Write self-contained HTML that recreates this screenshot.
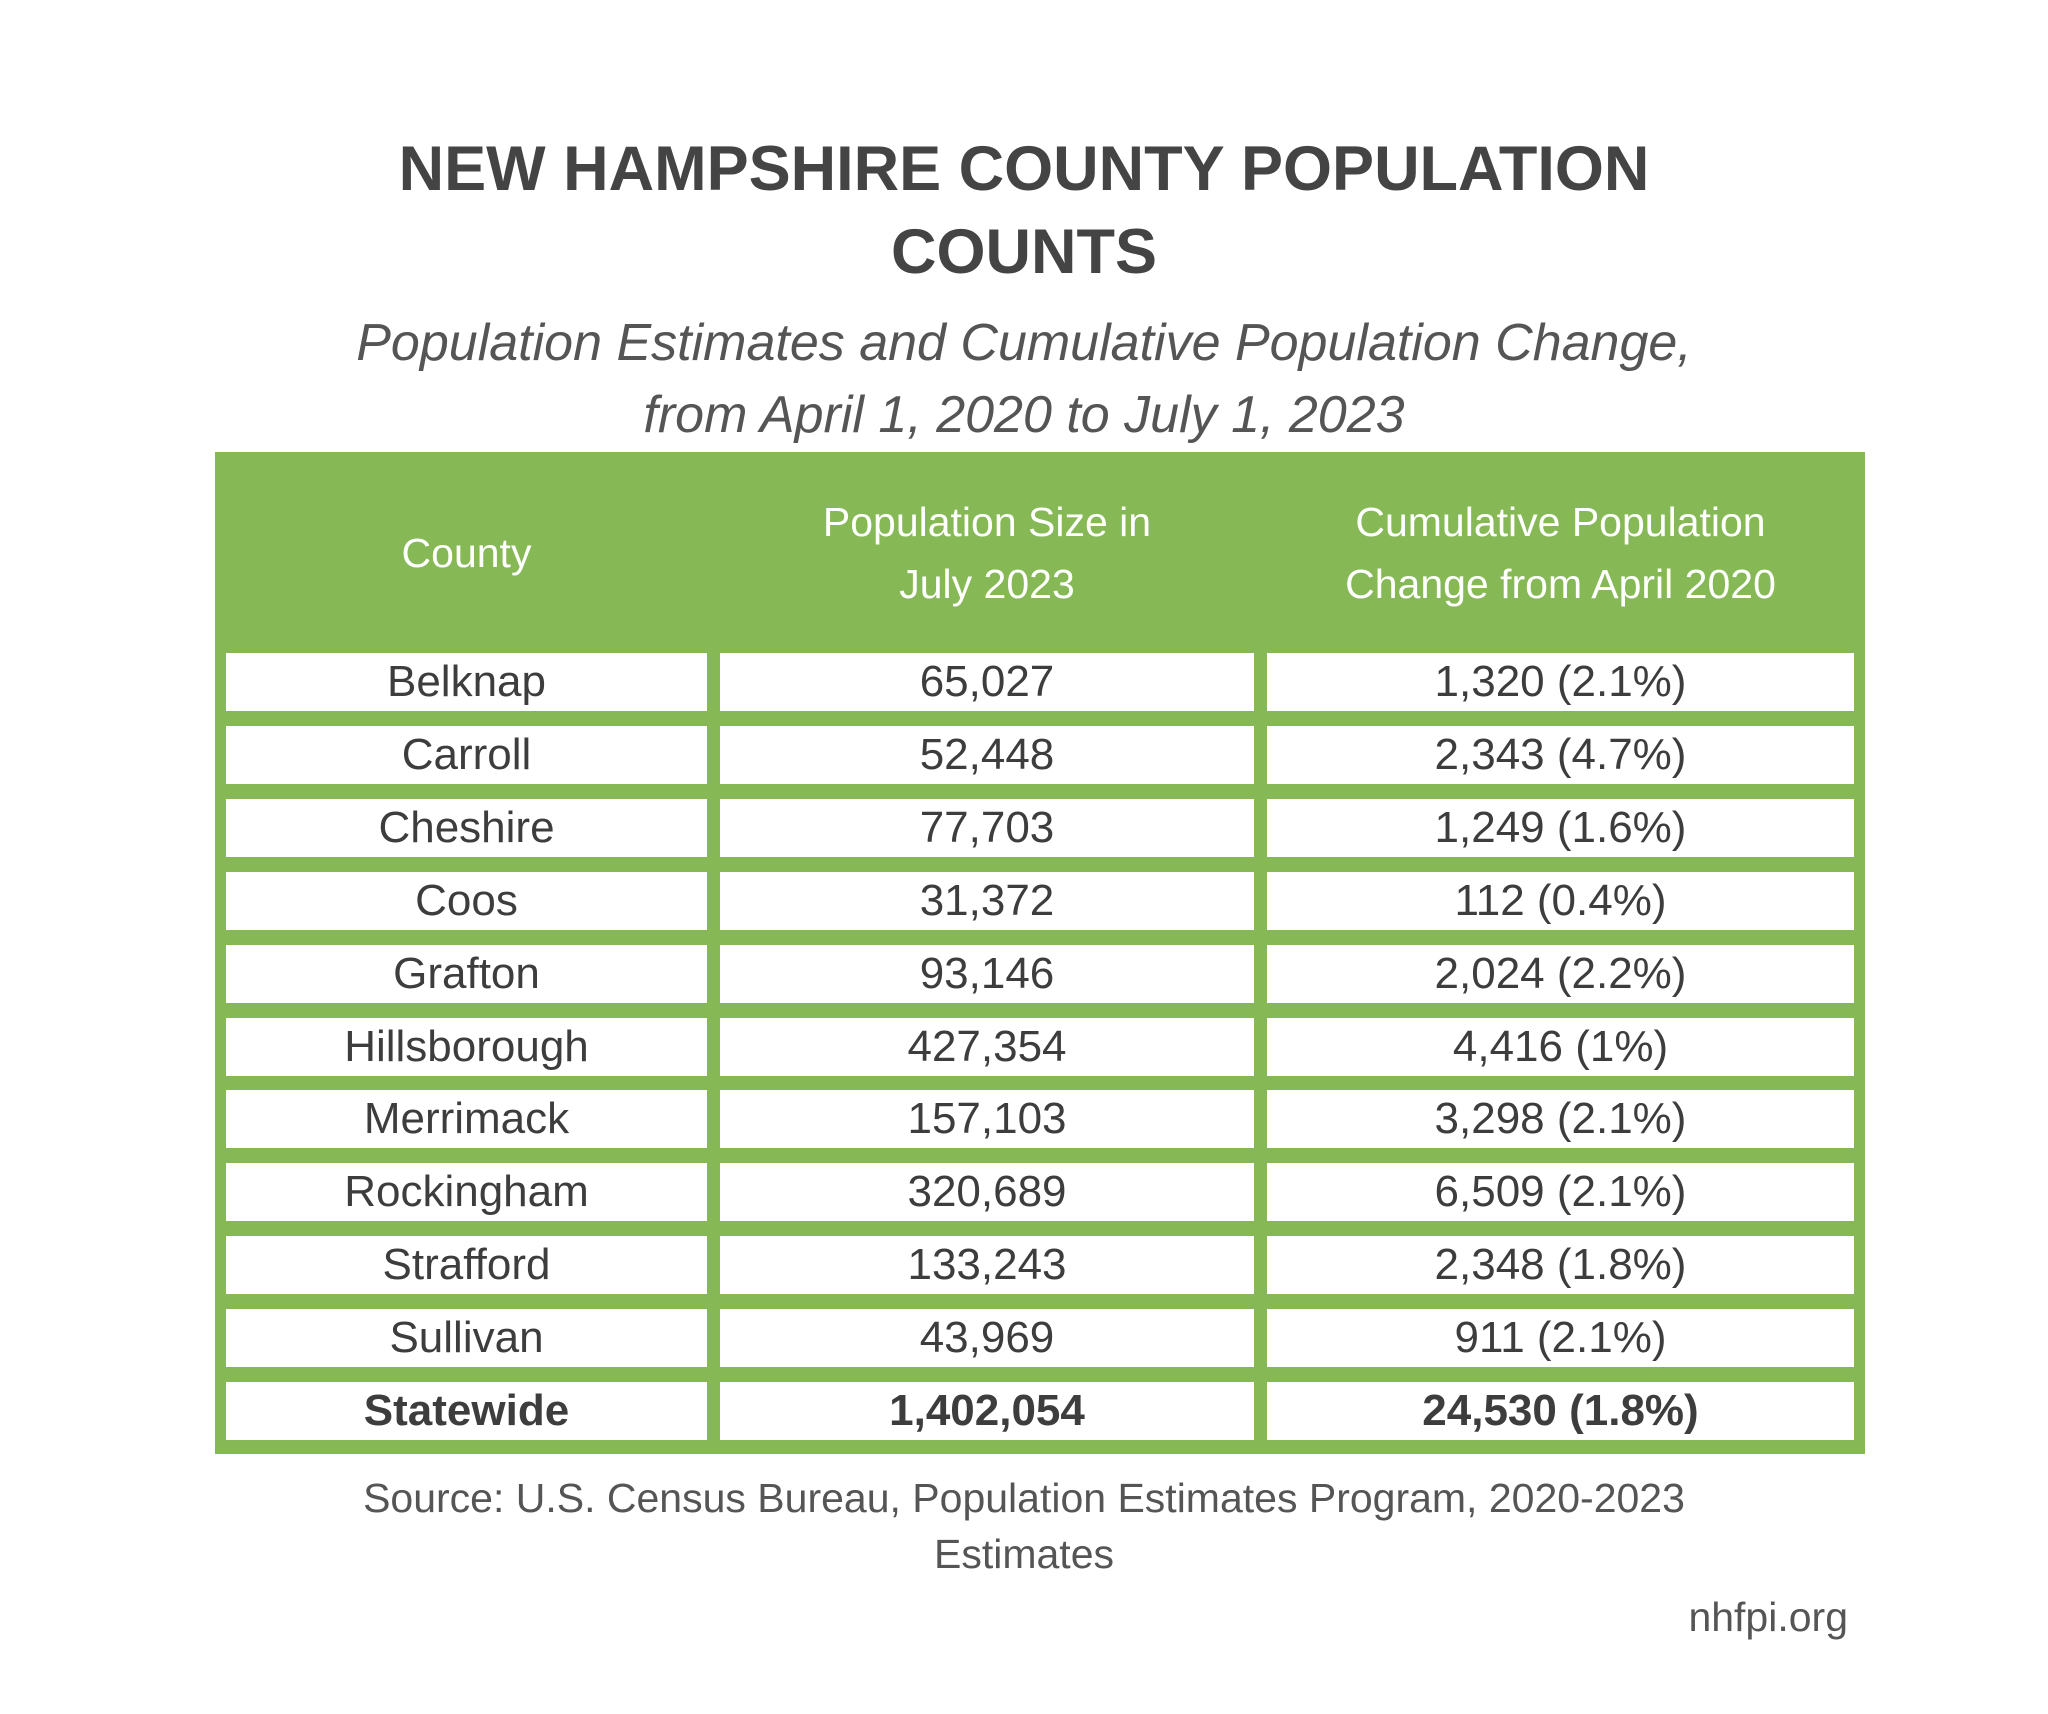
<!DOCTYPE html>
<html><head><meta charset="utf-8">
<style>
html,body{margin:0;padding:0;background:#fff;}
body{width:2048px;height:1714px;position:relative;overflow:hidden;font-family:"Liberation Sans",sans-serif;color:#444;}
.abs{position:absolute;}
.title{left:0;width:2048px;text-align:center;font-weight:bold;font-size:63px;color:#444;line-height:83px;top:128px;}
.sub{left:0;width:2048px;text-align:center;font-style:italic;font-size:52px;color:#555;line-height:72px;top:307px;}
#table{left:215px;top:452px;width:1650px;height:1002px;background:#86b955;}
.hd{color:#fff;font-size:41px;text-align:center;line-height:62px;display:flex;align-items:center;justify-content:center;}
.cell{background:#fff;font-size:44px;color:#3d3d3d;text-align:center;display:flex;align-items:center;justify-content:center;}
.src{left:0;width:2048px;text-align:center;font-size:41px;color:#555;line-height:56px;top:1470px;}
.site{right:200px;top:1594px;font-size:41px;color:#555;}
</style></head>
<body>
<div class="abs title">NEW HAMPSHIRE COUNTY POPULATION<br>COUNTS</div>
<div class="abs sub">Population Estimates and Cumulative Population Change,<br>from April 1, 2020 to July 1, 2023</div>
<div class="abs" id="table">
  <div class="abs hd" style="left:11px;top:0;width:481px;height:201px">County</div>
  <div class="abs hd" style="left:505px;top:0;width:534px;height:201px">Population Size in<br>July 2023</div>
  <div class="abs hd" style="left:1052px;top:0;width:587px;height:201px">Cumulative Population<br>Change from April 2020</div>
</div>
<div class="abs src">Source: U.S. Census Bureau, Population Estimates Program, 2020-2023<br>Estimates</div>
<div class="abs site">nhfpi.org</div>
<script>
const counties = ["Belknap","Carroll","Cheshire","Coos","Grafton","Hillsborough","Merrimack","Rockingham","Strafford","Sullivan","Statewide"];
const populations = ["65,027","52,448","77,703","31,372","93,146","427,354","157,103","320,689","133,243","43,969","1,402,054"];
const changes = ["1,320 (2.1%)","2,343 (4.7%)","1,249 (1.6%)","112 (0.4%)","2,024 (2.2%)","4,416 (1%)","3,298 (2.1%)","6,509 (2.1%)","2,348 (1.8%)","911 (2.1%)","24,530 (1.8%)"];
const table = document.getElementById('table');
const cols = [[11,481],[505,534],[1052,587]];
const rowTop = 201, pitch = 72.9, cellH = 58;
counties.forEach((c,i)=>{
  const vals = [c, populations[i], changes[i]];
  const names = ['county-cell','population-cell','change-cell'];
  vals.forEach((v,j)=>{
    const d = document.createElement('div');
    d.className = 'abs cell';
    
    
    d.style.left = cols[j][0]+'px';
    d.style.width = cols[j][1]+'px';
    d.style.top = (rowTop + i*pitch)+'px';
    d.style.height = cellH+'px';
    if (i === counties.length-1) d.style.fontWeight = 'bold';
    d.textContent = v;
    table.appendChild(d);
  });
});
</script>
</body></html>
